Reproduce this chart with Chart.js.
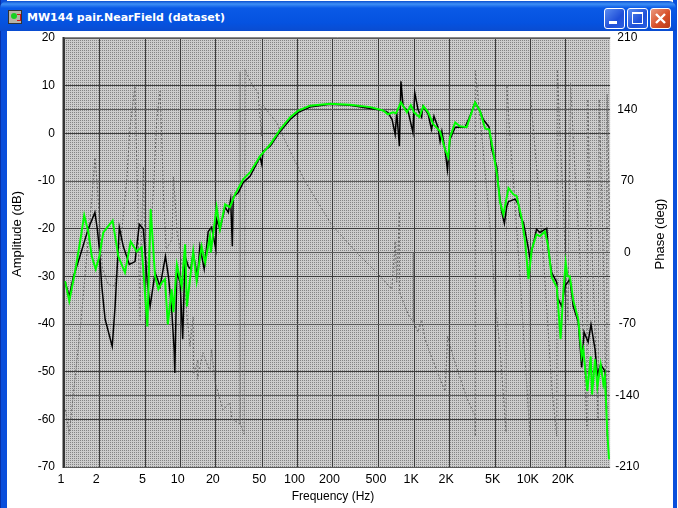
<!DOCTYPE html>
<html>
<head>
<meta charset="utf-8">
<title>MW144 pair.NearField (dataset)</title>
<script src="https://cdn.jsdelivr.net/npm/chart.js@4/dist/chart.umd.min.js"></script>
<style>
html, body { margin: 0; padding: 0; background: #fff; overflow: hidden; }
#win { position: absolute; left: 0; top: 0; width: 678px; height: 508px; background: #fff; overflow: hidden; }
#frameL { position: absolute; left: 0; top: 0; width: 6px; height: 508px; background: #0a4fdc; border-left: 1px solid #0831a8; }
#frameR { position: absolute; left: 673px; top: 0; width: 4px; height: 508px; background: #0a4fdc; }
#bar { position: absolute; left: 0; top: 1px; width: 676px; height: 30px; border-radius: 7px 7px 0 0;
  background: linear-gradient(#0a4fd0 0, #3d8ff5 3px, #0a5ae6 7px, #0552e0 22px, #0a4cd0 30px); }
#caption { position: absolute; left: 27px; top: 10px; color: #fff; font: bold 11px "DejaVu Sans", sans-serif; white-space: nowrap; }
#icon { position: absolute; left: 8px; top: 9px; width: 14px; height: 14px; background: #b8b4a8; border: 1px solid #333; box-sizing: border-box; }
#icon i { position: absolute; left: 2px; top: 2px; width: 6px; height: 6px; border-radius: 3px; background: #18d020; }
#icon b { position: absolute; left: 8px; top: 3px; width: 3px; height: 5px; border: 1px solid #d01818; border-left: 0; }
.btn { position: absolute; top: 7px; width: 19px; height: 19px; border: 1px solid #fff; border-radius: 3px;
  background: linear-gradient(135deg, #5a8cf0, #1f4fd8 60%, #2a5fe0); }
#close { background: linear-gradient(135deg, #ea9a80, #d8502a 55%, #b83a18); }
#chart { position: absolute; left: 0; top: 0; }
</style>
</head>
<body>
<div id="win">
  <div id="frameL"></div>
  <div id="frameR"></div>
  <div id="bar">
    <div id="icon"><i></i><b></b></div>
    <div id="caption">MW144 pair.NearField (dataset)</div>
    <div class="btn" style="left:604px"><svg width="19" height="19"><rect x="4" y="12" width="8" height="3" fill="#fff"/></svg></div>
    <div class="btn" style="left:627px"><svg width="19" height="19"><rect x="4.5" y="4.5" width="10" height="10" fill="none" stroke="#fff"/><rect x="4" y="3" width="11" height="2" fill="#fff"/></svg></div>
    <div class="btn" id="close" style="left:650px"><svg width="19" height="19"><path d="M5 5L14 14M14 5L5 14" stroke="#fff" stroke-width="2.4"/></svg></div>
  </div>
  <canvas id="chart" width="678" height="508"></canvas>
</div>
<script>
var xTickValues = [1, 2, 5, 10, 20, 50, 100, 200, 500, 1000, 2000, 5000, 10000, 20000];
var xTickLabels = ['1', '2', '5', '10', '20', '50', '100', '200', '500', '1K', '2K', '5K', '10K', '20K'];

var blackFreq = [1.02, 1.11, 1.20, 1.37, 1.61, 1.84, 1.93, 2.01, 2.10, 2.25, 2.59, 2.74, 2.83, 2.98, 3.22, 3.63, 4.06, 4.42, 4.79, 5.05,
  5.18, 5.47, 6.03, 6.66, 7.40, 7.85, 8.40, 8.78, 8.90, 9.27, 9.89, 10.4, 10.9, 11.6, 12.2, 12.8, 13.9, 14.6, 15.9, 17.2,
  18.4, 20.0, 20.3, 21.7, 24.0, 25.6, 26.8, 27.7, 28.2, 31.2, 34.4, 39.3, 47.9, 49.5, 50.8, 58.5, 71.2, 86.7, 102, 128,
  190, 282, 420, 543, 596, 648, 688, 710, 748, 771, 805, 889, 977, 1012, 1080, 1160, 1190, 1320, 1410, 1480,
  1600, 1670, 1730, 1840, 1930, 2030, 2250, 2740, 3010, 3330, 3680, 3920, 4390, 4630, 5110, 5280, 5640, 5940, 6230, 6440,
  7340, 7840, 8100, 8650, 9550, 9840, 11200, 12000, 13700, 14100, 15100, 16700, 16900, 18400, 19600, 21600, 23100, 25500, 27300, 28600,
  31000, 32800, 35500, 37200, 39700, 43200, 44600];
var blackDb = [-31.0, -34.2, -30.2, -25.8, -20.1, -16.6, -20.1, -24.3, -31.7, -39.0, -44.7, -36.3, -30.0, -19.7, -23.7, -27.5, -26.9, -19.1, -20.1, -27.9,
  -31.3, -36.3, -29.2, -32.1, -25.8, -30.0, -37.5, -45.3, -50.3, -29.2, -31.3, -43.2, -25.8, -27.9, -28.5, -25.0, -30.2, -23.7, -28.5, -20.6,
  -19.7, -24.3, -18.0, -20.1, -15.5, -16.6, -13.8, -23.7, -13.4, -12.4, -10.3, -9.0, -5.0, -6.5, -3.8, -2.7, 0.4, 2.9, 4.4, 5.5,
  6.1, 5.9, 5.2, 4.8, 4.4, 2.9, -0.2, 4.4, -2.7, 10.9, 5.7, 4.6, 0.2, 8.6, 5.0, 3.4, 5.7, 4.0, 0.8, 3.6,
  1.3, -1.7, 0.4, -3.4, -7.6, -1.3, 1.3, 1.3, 3.6, 6.5, 4.6, 2.9, 1.3, -3.4, -7.0, -11.1, -16.6, -18.9, -15.3, -14.3,
  -13.8, -14.9, -17.4, -18.7, -24.3, -26.4, -20.1, -20.8, -19.9, -24.3, -29.2, -31.3, -34.4, -36.3, -32.1, -30.6, -36.3, -39.6, -49.1, -41.7,
  -43.8, -40.1, -45.3, -50.6, -48.5, -49.9, -57.9];

var greenFreq = [1.02, 1.11, 1.24, 1.37, 1.49, 1.62, 1.73, 1.87, 2.01, 2.17, 2.61, 2.92, 3.33, 3.73, 4.20, 4.63, 5.18, 5.53, 6.03, 6.44,
  6.89, 7.33, 7.76, 8.37, 8.66, 9.27, 10.2, 10.9, 11.3, 12.8, 13.7, 15.1, 16.2, 17.8, 18.1, 20.3, 21.7, 24.0, 26.4, 29.2,
  34.4, 39.3, 47.9, 58.5, 71.2, 86.7, 101, 128, 190, 282, 420, 543, 596, 660, 700, 771, 867, 938, 1000, 1110,
  1200, 1320, 1460, 1670, 1840, 1960, 2030, 2250, 2470, 2820, 3330, 3680, 4060, 4410, 4760, 5160, 5450, 5830, 6440, 7090,
  7570, 8380, 8940, 9550, 10200, 11200, 12000, 13200, 14100, 15100, 16700, 18000, 19000, 19900, 20600, 21600, 23100, 25500, 27300, 28200,
  30500, 32600, 33500, 35500, 37200, 39700, 41900, 43200, 45200, 46800];
var greenDb = [-31.0, -35.2, -29.2, -22.9, -17.2, -20.8, -25.8, -28.5, -25.8, -20.8, -18.3, -25.8, -29.2, -22.7, -24.8, -23.9, -40.5, -15.9, -30.0, -32.7,
  -31.3, -30.6, -40.1, -32.7, -37.5, -27.5, -32.1, -23.3, -36.3, -24.8, -31.0, -23.7, -27.1, -21.6, -25.0, -15.5, -20.1, -14.9, -15.5, -12.8,
  -9.6, -8.2, -4.8, -2.3, 0.8, 3.4, 4.7, 5.8, 6.2, 6.0, 5.5, 4.8, 4.0, 4.4, 4.2, 6.5, 4.4, 5.9, 4.4, 3.4,
  5.7, 4.4, 1.9, 0.4, -3.4, -5.0, -0.8, 2.3, 1.5, 1.3, 6.5, 4.6, 1.0, 0.8, -3.8, -9.0, -14.5, -17.0, -11.5, -12.8,
  -13.2, -18.0, -22.7, -30.6, -24.3, -21.2, -21.6, -20.6, -23.7, -30.2, -32.3, -43.2, -33.3, -27.1, -30.0, -30.0, -35.0, -39.0, -46.8, -45.3,
  -54.1, -46.8, -54.8, -47.4, -53.1, -48.5, -52.6, -51.0, -62.7, -68.4];

var phaseFreq = [1.03, 1.11, 1.20, 1.37, 1.51, 1.73, 1.84, 1.92, 2.01, 2.12, 2.38, 2.74, 2.90, 3.14, 3.45, 3.68, 4.06, 4.23, 4.49, 4.58,
  4.79, 4.86, 5.15, 5.47, 5.83, 6.23, 6.66, 6.93, 7.10, 7.50, 8.44, 8.66, 8.96, 9.31, 9.89, 10.7, 12.0, 12.8, 12.9, 14.1,
  13.9, 15.5, 17.8, 18.4, 19.7, 23.0, 26.4, 27.4, 32.2, 32.3, 32.4, 35.0, 35.6, 40.9, 46.0, 49.3, 49.9, 66.6, 92, 116,
  197, 322, 511, 644, 688, 710, 748, 750, 894, 983, 985, 990, 1080, 1160, 1240, 1410, 1840, 1940, 2160, 2820,
  3330, 3340, 3350, 3900, 4480, 4940, 5450, 6140, 6230, 6650, 7050, 8100, 9840, 9950, 11500, 13200, 15100, 16700, 16900, 17800,
  18900, 19600, 20800, 21900, 23900, 26400, 30300, 30800, 32200, 35500, 37700, 38600, 41700, 44800, 45100, 48000];
var phaseDeg = [-154, -178, -139, -78, -24, 52, 93, 69, 32, -14, -31, -33, -2, 23, 71, 123, 163, 74, -66, 3,
  84, 35, -17, 13, 59, 130, 158, 101, 59, 3, 13, 74, 52, 20, 3, -31, -92, -63, -119, -105,
  -124, -98, -117, -95, -127, -154, -147, -163, -168, 177, -168, -178, 179, 164, 157, 114, 145, 127, 93, 70,
  27, 0, -23, -36, 11, -29, 40, -39, -61, -68, 0, -68, -78, -66, -85, -102, -136, -82, -102, -142,
  -160, -180, 178, 101, 25, -46, -95, -176, 164, 111, 74, -26, -180, 153, 69, -26, -131, -180, 179, 114,
  52, 3, -66, 166, 81, -7, -173, 150, 52, -75, -163, 150, 3, -180, 155, 3];

function toPoints(xs, ys) {
	return xs.map(function(x, i) { return {x: x, y: ys[i]}; });
}

// dotted grey background of the plot, 2px tile
function makeTile() {
	var c = document.createElement('canvas');
	c.width = 2;
	c.height = 2;
	var g = c.getContext('2d');
	g.fillStyle = '#cccccc';
	g.fillRect(0, 0, 2, 2);
	g.fillStyle = '#848484';
	g.fillRect(0, 0, 1, 1);
	return c;
}

var plotBack = {
	id: 'plotBack',
	beforeDraw: function(chart) {
		var a = chart.chartArea, ctx = chart.ctx;
		ctx.save();
		ctx.fillStyle = ctx.createPattern(makeTile(), 'repeat');
		ctx.fillRect(a.left, a.top, a.right - a.left, a.bottom - a.top);
		ctx.restore();
	},
	afterDraw: function(chart) {
		var a = chart.chartArea, ctx = chart.ctx;
		ctx.save();
		// sunken frame
		ctx.lineWidth = 1;
		ctx.strokeStyle = '#fff';
		ctx.beginPath();
		ctx.moveTo(a.left, a.bottom + 1.5);
		ctx.lineTo(a.right + 0.5, a.bottom + 1.5);
		ctx.lineTo(a.right + 0.5, a.top);
		ctx.stroke();
		ctx.strokeStyle = '#8a8a8a';
		ctx.beginPath();
		ctx.moveTo(a.left, a.top - 0.5);
		ctx.lineTo(a.right, a.top - 0.5);
		ctx.stroke();
		ctx.lineWidth = 2;
		ctx.strokeStyle = '#333';
		ctx.beginPath();
		ctx.moveTo(a.left - 0.5, a.top - 1);
		ctx.lineTo(a.left - 0.5, a.bottom + 1);
		ctx.stroke();
		// the axis titles sit off the plot centre in the original
		ctx.fillStyle = '#000';
		ctx.font = '12px "Liberation Sans"';
		ctx.textAlign = 'center';
		ctx.textBaseline = 'middle';
		ctx.fillText('Frequency (Hz)', 333, 497);
		ctx.font = '13px "Liberation Sans"';
		ctx.translate(17, 234);
		ctx.rotate(-Math.PI / 2);
		ctx.fillText('Amplitude (dB)', 0, 0);
		ctx.rotate(Math.PI / 2);
		ctx.translate(643, 0);
		ctx.rotate(-Math.PI / 2);
		ctx.fillText('Phase (deg)', 0, 0);
		ctx.restore();
	}
};

var tickFont = {family: '"Liberation Sans"', size: 12};

new Chart(document.getElementById('chart'), {
	type: 'line',
	plugins: [plotBack],
	data: {
		datasets: [
			{label: 'Phase', data: toPoints(phaseFreq, phaseDeg), yAxisID: 'y2', order: 3,
				borderColor: '#666', borderWidth: 1, borderDash: [2, 2], pointRadius: 0, tension: 0},
			{label: 'Amplitude', data: toPoints(blackFreq, blackDb), yAxisID: 'y', order: 2,
				borderColor: '#000', borderWidth: 1.5, pointRadius: 0, tension: 0},
			{label: 'Amplitude 2', data: toPoints(greenFreq, greenDb), yAxisID: 'y', order: 1,
				borderColor: '#00ff00', borderWidth: 2, pointRadius: 0, tension: 0}
		]
	},
	options: {
		responsive: false,
		animation: false,
		devicePixelRatio: 1,
		layout: {padding: {top: 38}},
		plugins: {legend: {display: false}, title: {display: false}, tooltip: {enabled: false}},
		scales: {
			x: {
				type: 'logarithmic',
				min: 1,
				max: 48000,
				afterFit: function(s) { s.height = 41; },
				afterBuildTicks: function(s) {
					s.ticks = xTickValues.map(function(v) { return {value: v}; });
				},
				grid: {color: '#3c3c3c', lineWidth: 1, drawTicks: false},
				border: {display: false},
				ticks: {
					autoSkip: false,
					maxRotation: 0,
					minRotation: 0,
					padding: 5,
					labelOffset: -3,
					color: '#000',
					font: {family: '"Liberation Sans"', size: 12.5},
					callback: function(v, i) { return xTickLabels[i]; }
				}
			},
			y: {
				position: 'left',
				min: -70,
				max: 20,
				afterFit: function(s) { s.width = 64; },
				grid: {color: '#3c3c3c', lineWidth: 1, drawTicks: false},
				border: {display: false},
				ticks: {stepSize: 10, autoSkip: false, padding: 9, color: '#000', font: tickFont}
			},
			y2: {
				position: 'right',
				min: -210,
				max: 210,
				afterFit: function(s) { s.width = 67.7; },
				grid: {color: '#5a5a5a', lineWidth: 1, drawTicks: false},
				border: {display: false},
				ticks: {stepSize: 70, autoSkip: false, padding: 5, crossAlign: 'center', color: '#000', font: tickFont}
			}
		}
	}
});
</script>
</body>
</html>
